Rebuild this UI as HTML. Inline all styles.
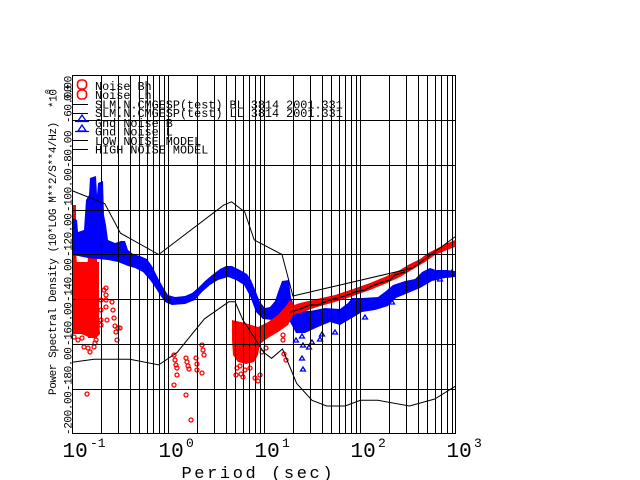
<!DOCTYPE html>
<html><head><meta charset="utf-8"><style>
html,body{margin:0;padding:0;background:#fff;}
svg{display:block;}
.m{font-family:"Liberation Mono","DejaVu Sans Mono",monospace;}
</style></head><body>
<svg width="640" height="480" viewBox="0 0 640 480" xmlns="http://www.w3.org/2000/svg">
<rect width="640" height="480" fill="#fff"/>

<!-- red left dense -->
<rect x="72" y="262" width="27" height="72" fill="#f00"/>
<rect x="88" y="252" width="9" height="86" fill="#f00"/>
<rect x="72" y="205" width="4" height="128" fill="#f00"/>
<path fill="#f00" d="M76,250 L77,265 L80,275 L84,282 L87,272 L88,256 L88,300 L76,300 Z"/>
<path fill="#f00" d="M72,333 L78,333 L84,335 L90,338 L96,338 L100,334 L99,318 L98,290 L97,262 L72,262 Z"/>

<!-- blue band -->
<polygon fill="#00f" points="72,218 77,220 78,232 84,230 86,200 89,195 90,178 96,176 97,195 98,183 103,181 104,215 106,225 108,240 115,243 121,241 125,241 128,250 133,254 140,256 147,259 152,266 158,278 163,287 168,295 175,297 185,296 192,293 198,288 205,281 212,275 220,269 226,266 232,266 240,270 247,274 251,280 256,292 260,302 265,308 270,307 275,301 278,292 282,281 289,280 291,298 296,310 310,311 325,308 340,309 348,303 352,298 362,298 378,297 386,291 393,285 405,281 415,279 422,272 430,268 436,270 446,270 455,271 455,277 445,278 432,281 420,288 408,293 396,298 388,306 375,310 362,312 352,318 340,325 330,322 318,327 305,333 296,333 290,322 282,320 272,320 263,319 256,312 250,296 244,285 236,280 228,277 218,280 210,285 202,292 195,300 185,304 172,305 165,302 160,295 155,287 150,280 143,272 135,268 128,266 118,262 108,260 98,259 88,258 78,256 72,255"/>

<!-- blue scattered triangles -->
<g fill="none" stroke="#00f" stroke-width="1.3">
<path d="M302,334 l-2.5,4 h5 z M303,343 l-2.5,4 h5 z M309,345 l-2.5,4 h5 z M302,356 l-2.5,4 h5 z M303,367 l-2.5,4 h5 z M320,337 l-2.5,4 h5 z M322,332 l-2.5,4 h5 z M365,315 l-2.5,4 h5 z M392,300 l-2.5,4 h5 z M440,277 l-2.5,4 h5 z M447,273 l-2.5,4 h5 z M452,270 l-2.5,4 h5 z M312,340 l-2.5,4 h5 z M335,330 l-2.5,4 h5 z M296,338 l-2.5,4 h5 z M270,322 l-2.5,4 h5 z M276,326 l-2.5,4 h5 z"/>
</g>

<!-- red middle block -->
<polygon fill="#f00" points="232,320 245,323 258,327 268,322 278,315 286,306 290,300 294,304 293,315 288,325 278,332 268,338 260,344 258,355 254,362 246,364 238,362 233,355 232,340"/>
<!-- red right band -->
<polygon fill="#f00" points="288,307 300,303 317,299 335,295 353,289 370,283 387,276 400,270 408,265 420,259 428,253 440,247 448,243 455,240 455,247 447,250 435,255 425,262 415,268 400,277 387,283 370,290 353,296 335,302 317,307 300,313 290,316"/>
<polyline fill="none" stroke="#000" stroke-width="1.3" points="290,312 300,309 310,305 318,305 325,302 333,299 345,296 355,292 365,290 372,286 380,283 390,280 395,275 405,272"/>

<!-- red scattered circles -->
<g fill="none" stroke="#f00" stroke-width="1.3">
<circle cx="74" cy="337" r="2"/><circle cx="78" cy="340" r="2"/><circle cx="82" cy="338" r="2"/><circle cx="94" cy="347" r="2"/><circle cx="95" cy="343" r="2"/><circle cx="96" cy="340" r="2"/><circle cx="101" cy="320" r="2"/><circle cx="101" cy="310" r="2"/><circle cx="101" cy="300" r="2"/><circle cx="101" cy="325" r="2"/><circle cx="104" cy="290" r="2"/><circle cx="106" cy="288" r="2"/><circle cx="106" cy="295" r="2"/><circle cx="106" cy="300" r="2"/><circle cx="106" cy="307" r="2"/><circle cx="107" cy="320" r="2"/><circle cx="112" cy="302" r="2"/><circle cx="113" cy="310" r="2"/><circle cx="114" cy="318" r="2"/><circle cx="115" cy="326" r="2"/><circle cx="116" cy="332" r="2"/><circle cx="117" cy="340" r="2"/><circle cx="118" cy="328" r="2"/><circle cx="120" cy="328" r="2"/><circle cx="87" cy="394" r="2"/><circle cx="88" cy="348" r="2"/><circle cx="84" cy="347" r="2"/><circle cx="90" cy="352" r="2"/>
<circle cx="174" cy="355" r="2"/><circle cx="175" cy="360" r="2"/><circle cx="176" cy="365" r="2"/><circle cx="177" cy="368" r="2"/><circle cx="174" cy="385" r="2"/><circle cx="177" cy="375" r="2"/><circle cx="186" cy="358" r="2"/><circle cx="187" cy="362" r="2"/><circle cx="188" cy="366" r="2"/><circle cx="189" cy="369" r="2"/><circle cx="186" cy="395" r="2"/><circle cx="196" cy="358" r="2"/><circle cx="197" cy="364" r="2"/><circle cx="197" cy="370" r="2"/><circle cx="202" cy="345" r="2"/><circle cx="203" cy="350" r="2"/><circle cx="204" cy="355" r="2"/><circle cx="202" cy="373" r="2"/><circle cx="191" cy="420" r="2"/>
<circle cx="237" cy="368" r="2"/><circle cx="241" cy="374" r="2"/><circle cx="245" cy="370" r="2"/><circle cx="240" cy="366" r="2"/><circle cx="250" cy="368" r="2"/><circle cx="255" cy="378" r="2"/><circle cx="258" cy="381" r="2"/><circle cx="260" cy="375" r="2"/><circle cx="236" cy="375" r="2"/><circle cx="243" cy="377" r="2"/><circle cx="283" cy="335" r="2"/><circle cx="283" cy="340" r="2"/><circle cx="284" cy="354" r="2"/><circle cx="286" cy="360" r="2"/><circle cx="262" cy="352" r="2"/><circle cx="266" cy="348" r="2"/>
</g>

<!-- grid -->
<g stroke="#000" stroke-width="1" shape-rendering="crispEdges" fill="none">
<path d="M72.5,75V434 M101.5,75V434 M118.5,75V434 M130.5,75V434 M139.5,75V434 M147.5,75V434 M153.5,75V434 M159.5,75V434 M164.5,75V434
M168.5,75V434 M197.5,75V434 M214.5,75V434 M226.5,75V434 M235.5,75V434 M243.5,75V434 M249.5,75V434 M255.5,75V434 M260.5,75V434
M264.5,75V434 M293.5,75V434 M310.5,75V434 M322.5,75V434 M331.5,75V434 M339.5,75V434 M345.5,75V434 M351.5,75V434 M356.5,75V434
M360.5,75V434 M389.5,75V434 M406.5,75V434 M418.5,75V434 M427.5,75V434 M435.5,75V434 M441.5,75V434 M447.5,75V434 M452.5,75V434
M455.5,75V434"/>
<path d="M72,75.5H456 M72,120.5H456 M72,165.5H456 M72,210.5H456 M72,254.5H456 M72,299.5H456 M72,344.5H456 M72,389.5H456 M72,433.5H456"/>
</g>

<!-- noise models -->
<g fill="none" stroke="#000" stroke-width="1">
<polyline points="72,190.6 104.9,203.8 120.5,233.2 158.7,254.5 223.7,205.1 231.6,201.8 244.7,211.9 254.2,239.9 282,254.5 292.9,296 412.8,268 456,236.1"/>
<polyline points="72,362.2 94.1,359.3 129.8,359.3 158.7,364.9 177,352.6 204.5,318.8 228.8,301.8 235.1,301.8 242.7,319.6 264,352.7 271.6,358.3 282.5,349 296.7,383.5 312,400.3 326.7,406 345.1,406 360.4,400.3 378,400.3 409.5,406 434.7,399 456,385.8"/>
</g>

<!-- legend -->
<g fill="none" stroke="#f00" stroke-width="1.6">
<rect x="77.5" y="80" width="9" height="9" rx="3.5"/>
<rect x="77.5" y="90" width="9" height="9" rx="3.5"/>
</g>
<g stroke="#000" stroke-width="1" shape-rendering="crispEdges">
<path d="M72,104.5H88 M72,113.5H88 M72,140.5H88 M72,149.5H88"/>
</g>
<g fill="none" stroke="#00f" stroke-width="1.3">
<path d="M82,115 l-4,6 h8 z M75,121.5 h14"/>
<path d="M82,125 l-4,6 h8 z M75,131.5 h14"/>
</g>
<g class="m" font-size="11.8" fill="#000">
<text x="95" y="90">Noise Bh</text>
<text x="95" y="99">Noise Lh</text>
<text x="95" y="108.5">SLM.N.CMGESP(test) BL 3814 2001.331</text>
<text x="95" y="117">SLM.N.CMGESP(test) LL 3814 2001.331</text>
<text x="95" y="127">Gnd Noise B</text>
<text x="95" y="135.5">Gnd Noise L</text>
<text x="95" y="145">LOW NOISE MODEL</text>
<text x="95" y="153.5">HIGH NOISE MODEL</text>
</g>

<!-- y tick labels -->
<g class="m" font-size="11" letter-spacing="-0.4" fill="#000">
<text transform="translate(71.5,435) rotate(-90)">-200.00</text>
<text transform="translate(71.5,391) rotate(-90)">-180.00</text>
<text transform="translate(71.5,346) rotate(-90)">-160.00</text>
<text transform="translate(71.5,302) rotate(-90)">-140.00</text>
<text transform="translate(71.5,257) rotate(-90)">-120.00</text>
<text transform="translate(71.5,212) rotate(-90)">-100.00</text>
<text transform="translate(71.5,168) rotate(-90)">-80.00</text>
<text transform="translate(71.5,123) rotate(-90)">-60.00</text>
<text transform="translate(71.5,101) rotate(-90)">0.00</text>
<text transform="translate(56,395) rotate(-90)">Power Spectral Density (10*LOG M**2/S**4/Hz)</text>
<text transform="translate(56.5,108) rotate(-90)">*10</text>
</g>
<text class="m" font-size="8" transform="translate(50.5,94) rotate(-90)">0</text>

<!-- x tick labels -->
<g class="m" fill="#000">
<text x="62.5" y="457" font-size="21">10</text><text x="90" y="447" font-size="13">-1</text>
<text x="158.5" y="457" font-size="21">10</text><text x="186" y="447" font-size="13">0</text>
<text x="254.5" y="457" font-size="21">10</text><text x="282" y="447" font-size="13">1</text>
<text x="350.5" y="457" font-size="21">10</text><text x="378" y="447" font-size="13">2</text>
<text x="446.5" y="457" font-size="21">10</text><text x="474" y="447" font-size="13">3</text>
<text x="181.5" y="478" font-size="17" letter-spacing="2.6">Period (sec)</text>
</g>
</svg>
</body></html>
